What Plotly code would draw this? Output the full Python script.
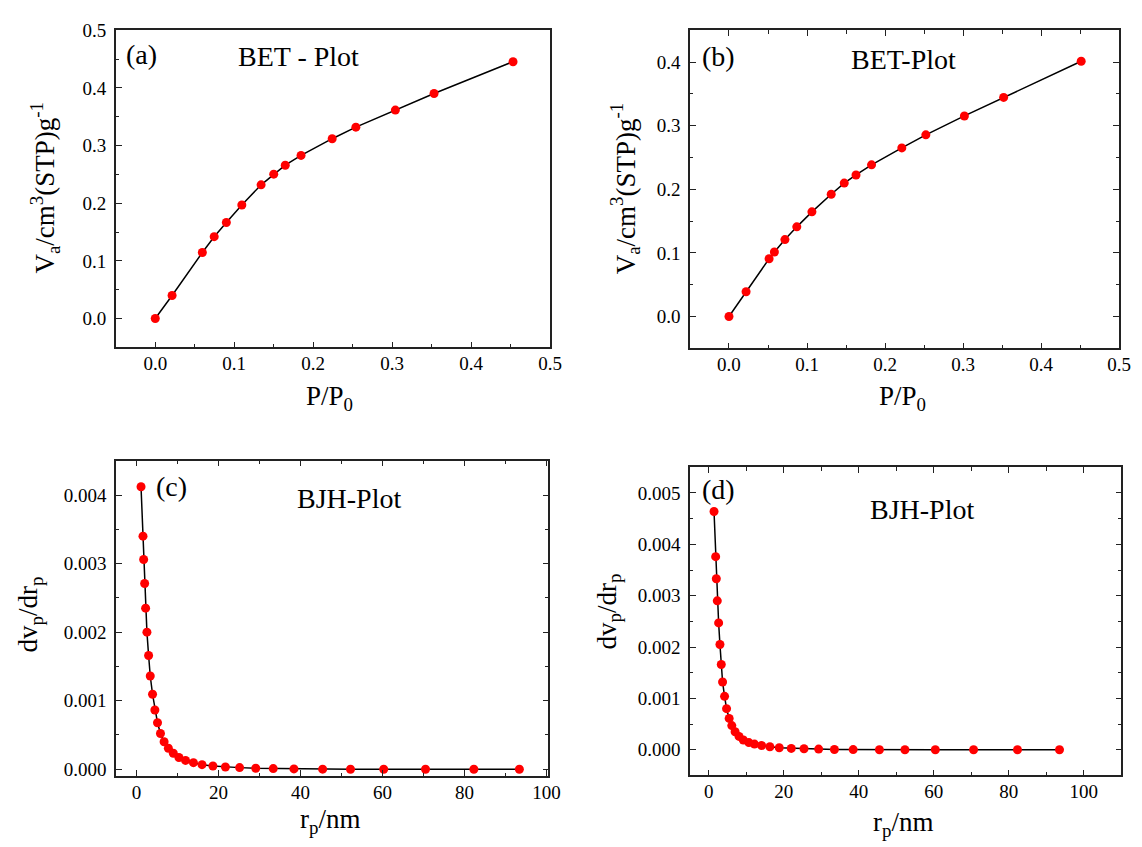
import plotly.graph_objects as go

# ---- BET isotherm, sample (a) ----
p_a = [0.0, 0.0213, 0.0596, 0.0746, 0.090, 0.1096, 0.134, 0.150, 0.1646, 0.1846,
       0.224, 0.254, 0.304, 0.353, 0.453]
v_a = [0.0, 0.040, 0.1145, 0.142, 0.1667, 0.197, 0.232, 0.2505, 0.266, 0.283,
       0.312, 0.332, 0.3616, 0.3905, 0.4456]

# ---- BET isotherm, sample (b) ----
p_b = [0.0, 0.0219, 0.0514, 0.0582, 0.0717, 0.0869, 0.1063, 0.131, 0.1477, 0.1628,
       0.1827, 0.2215, 0.2523, 0.3017, 0.352, 0.4514]
v_b = [0.0, 0.039, 0.0908, 0.1015, 0.121, 0.141, 0.1646, 0.1923, 0.2098, 0.2226,
       0.2385, 0.2652, 0.2857, 0.3154, 0.3446, 0.4015]

# ---- BJH pore size distribution, sample (c) ----
r_c = [1.09, 1.57, 1.73, 1.97, 2.21, 2.53, 2.94, 3.34, 3.90, 4.47, 5.11, 5.83, 6.72,
       7.76, 8.97, 10.34, 11.95, 13.88, 15.97, 18.63, 21.68, 25.14, 29.08, 33.35,
       38.4, 45.4, 52.2, 60.3, 70.5, 82.3, 93.4]
d_c = [4.12e-3, 3.40e-3, 3.06e-3, 2.71e-3, 2.35e-3, 2.00e-3, 1.66e-3, 1.36e-3,
       1.094e-3, 0.865e-3, 0.679e-3, 0.521e-3, 0.401e-3, 0.306e-3, 0.234e-3,
       0.172e-3, 0.129e-3, 0.096e-3, 0.067e-3, 0.048e-3, 0.033e-3, 0.024e-3,
       0.014e-3, 0.010e-3, 0.005e-3, 0.002e-3, 0.001e-3, 0.0, 0.0, 0.0, 0.0]

# ---- BJH pore size distribution, sample (d) ----
r_d = [1.41, 1.85, 2.02, 2.28, 2.64, 2.99, 3.34, 3.69, 4.22, 4.75, 5.45, 6.15, 7.03,
       8.08, 9.22, 10.7, 12.2, 14.1, 16.3, 18.8, 22.0, 25.4, 29.3, 33.5, 38.5,
       45.5, 52.3, 60.4, 70.6, 82.3, 93.5]
d_d = [4.64e-3, 3.76e-3, 3.33e-3, 2.90e-3, 2.47e-3, 2.05e-3, 1.66e-3, 1.32e-3,
       1.04e-3, 0.80e-3, 0.61e-3, 0.47e-3, 0.35e-3, 0.26e-3, 0.19e-3, 0.14e-3,
       0.11e-3, 0.083e-3, 0.058e-3, 0.038e-3, 0.026e-3, 0.019e-3, 0.013e-3,
       0.006e-3, 0.003e-3, 0.0, 0.0, 0.0, 0.0, 0.0, 0.0]

W, H = 1142, 847
FONT = "Liberation Serif"
TICK_SIZE = 19
TITLE_SIZE = 27
CAPTION_SIZE = 28

fig = go.Figure()

series = [(p_a, v_a, "x", "y"), (p_b, v_b, "x2", "y2"),
          (r_c, d_c, "x3", "y3"), (r_d, d_d, "x4", "y4")]
for xs, ys, xa, ya in series:
    fig.add_trace(go.Scatter(
        x=xs, y=ys, xaxis=xa, yaxis=ya, mode="lines+markers",
        line=dict(color="black", width=1.5),
        marker=dict(color="#ff0000", size=9, line=dict(width=0)),
        showlegend=False, hoverinfo="skip"))


def px_x(a, b):
    return [a / W, b / W]


def px_y(top, bottom):
    return [1 - bottom / H, 1 - top / H]


def axis(domain, rng, dtick, minor_dtick, fmt, mirror, anchor, standoff):
    return dict(
        domain=domain, range=rng, anchor=anchor, dtick=dtick, tick0=0,
        tickformat=fmt, showgrid=False, zeroline=False,
        showline=True, linecolor="#222", linewidth=1.5, mirror=mirror,
        ticks="inside", ticklen=6, tickwidth=1.2, tickcolor="#222",
        minor=dict(dtick=minor_dtick, ticks="inside", ticklen=3.5,
                   tickwidth=1.2, tickcolor="#222", showgrid=False),
        tickfont=dict(family=FONT, size=TICK_SIZE, color="black"),
        ticklabelstandoff=standoff,
    )


layout = dict(
    width=W, height=H, margin=dict(l=0, r=0, t=0, b=0),
    paper_bgcolor="white", plot_bgcolor="white",
    font=dict(family=FONT, color="black"),
    xaxis=axis(px_x(117, 556), [-0.05, 0.5], 0.1, 0.05, ".1f", True, "y", -2),
    yaxis=axis(px_y(20.7, 343), [-0.05, 0.5], 0.1, 0.05, ".1f", True, "x", 4),
    xaxis2=axis(px_x(697.3, 1131), [-0.05, 0.5], 0.1, 0.05, ".1f", "ticks", "y2", -2),
    yaxis2=axis(px_y(20.7, 344), [-0.05, 0.45], 0.1, 0.05, ".1f", "ticks", "x2", 4),
    xaxis3=axis(px_x(117.3, 554.3), [-5, 100.5], 20, 10, "d", "ticks", "y3", -2),
    yaxis3=axis(px_y(458.3, 779), [-0.0001, 0.0045], 0.001, 0.0005, ".3f", "ticks", "x3", 4),
    xaxis4=axis(px_x(697.3, 1133.3), [-5, 110], 20, 10, "d", "ticks", "y4", -2),
    yaxis4=axis(px_y(465, 778.3), [-0.0005, 0.0055], 0.001, 0.0005, ".3f", "ticks", "x4", 4),
)
fig.update_layout(**layout)


def label(text, x, y, size=TITLE_SIZE, angle=0, xanchor="center"):
    fig.add_annotation(
        text=text, x=x / W, y=1 - y / H, xref="paper", yref="paper",
        showarrow=False, textangle=angle, xanchor=xanchor, yanchor="middle",
        font=dict(family=FONT, size=size, color="black"))


# in-panel captions
label("(a)", 125, 45, CAPTION_SIZE, xanchor="left")
label("BET - Plot", 302, 47, CAPTION_SIZE)
label("(b)", 707, 47, CAPTION_SIZE, xanchor="left")
label("BET-Plot", 913, 50, CAPTION_SIZE)
label("(c)", 156, 485, CAPTION_SIZE, xanchor="left")
label("BJH-Plot", 353, 497, CAPTION_SIZE)
label("(d)", 707, 488, CAPTION_SIZE, xanchor="left")
label("BJH-Plot", 932, 508, CAPTION_SIZE)

# axis titles
va_title = "V<sub>a</sub>/cm<sup>3</sup>(STP)g<sup>-1</sup>"
dv_title = "dv<sub>p</sub>/dr<sub>p</sub>"
label(va_title, 45, 181, angle=-90)
label(va_title, 632, 181, angle=-90)
label("P/P<sub>0</sub>", 333, 395)
label("P/P<sub>0</sub>", 912, 395)
label(dv_title, 30, 615, angle=-90)
label(dv_title, 615, 612, angle=-90)
label("r<sub>p</sub>/nm", 333, 825)
label("r<sub>p</sub>/nm", 913, 828)

fig.write_html("out.html")
